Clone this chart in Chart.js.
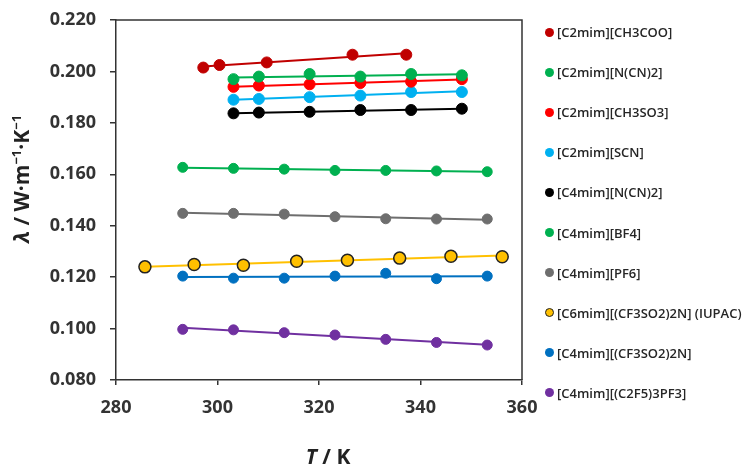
<!DOCTYPE html>
<html>
<head>
<meta charset="utf-8">
<script src="https://cdn.jsdelivr.net/npm/chart.js@4.4.1/dist/chart.umd.min.js"></script>
<style>
  body { margin: 0; background: #fff; }
  #wrap { position: relative; width: 748px; height: 466px; }
  #leyenda { position: absolute; left: 545px; top: 0; font: 600 13px "Open Sans", sans-serif; color: #262626; }
  .item { position: absolute; left: 0; height: 16px; line-height: 16px; white-space: nowrap; display: flex; align-items: center; }
  .punto { width: 9px; height: 9px; border-radius: 50%; margin-right: 3px; box-sizing: border-box; }
</style>
</head>
<body>
<div id="wrap">
  <canvas id="graficaConductividad" width="748" height="466"></canvas>
  <div id="leyenda"></div>
</div>
<script>
// temperaturas (K)
const T_ch3coo = [297.2, 300.4, 309.7, 326.6, 337.2];
const T_303 = [303.15, 308.15, 318.15, 328.15, 338.15, 348.15];
const T_293 = [293.15, 303.15, 313.15, 323.15, 333.15, 343.15, 353.15];
const T_iupac = [285.7, 295.4, 305.1, 315.6, 325.6, 335.9, 346.0, 356.1];

// conductividad térmica (W/m/K)
const k_c2_ch3coo = [0.2015, 0.2025, 0.2035, 0.2065, 0.2065];
const k_c2_dca = [0.197, 0.198, 0.199, 0.198, 0.199, 0.1985];
const k_c2_ch3so3 = [0.194, 0.1945, 0.195, 0.1955, 0.196, 0.197];
const k_c2_scn = [0.189, 0.1893, 0.190, 0.1906, 0.192, 0.192];
const k_c4_dca = [0.1837, 0.184, 0.1843, 0.185, 0.185, 0.1855];
const k_c4_bf4 = [0.1627, 0.1623, 0.162, 0.1615, 0.1615, 0.1613, 0.161];
const k_c4_pf6 = [0.1448, 0.1448, 0.1445, 0.1435, 0.1427, 0.1426, 0.1426];
const k_c6_ntf2 = [0.124, 0.1249, 0.1246, 0.1262, 0.1266, 0.1274, 0.1281, 0.1279];
const k_c4_ntf2 = [0.1204, 0.1196, 0.1196, 0.1204, 0.1215, 0.1194, 0.1204];
const k_c4_fap = [0.0997, 0.0995, 0.0984, 0.0975, 0.0958, 0.0946, 0.0936];

const nombres = [
  '[C2mim][CH3COO]', '[C2mim][N(CN)2]', '[C2mim][CH3SO3]', '[C2mim][SCN]',
  '[C4mim][N(CN)2]', '[C4mim][BF4]', '[C4mim][PF6]',
  '[C6mim][(CF3SO2)2N] (IUPAC)', '[C4mim][(CF3SO2)2N]', '[C4mim][(C2F5)3PF3]'
];
const colores = ['#C00000', '#00B050', '#FF0000', '#00B0F0', '#000000',
                 '#00B050', '#6E6E6E', '#FFC000', '#0070C0', '#7030A0'];
const temperaturas = [T_ch3coo, T_303, T_303, T_303, T_303, T_293, T_293, T_iupac, T_293, T_293];
const valores = [k_c2_ch3coo, k_c2_dca, k_c2_ch3so3, k_c2_scn, k_c4_dca,
                 k_c4_bf4, k_c4_pf6, k_c6_ntf2, k_c4_ntf2, k_c4_fap];
const ticksY = [0.080, 0.100, 0.120, 0.140, 0.160, 0.180, 0.200, 0.220];
const ticksX = [280, 300, 320, 340, 360];

const FUENTE = '"Open Sans", sans-serif';
const GRIS = '#333';

// recta de mínimos cuadrados entre el primer y el último punto
function tendencia(xs, ys) {
  const n = xs.length;
  const mx = xs.reduce((a, b) => a + b, 0) / n;
  const my = ys.reduce((a, b) => a + b, 0) / n;
  let sxy = 0, sxx = 0;
  for (let i = 0; i < n; i++) {
    sxy += (xs[i] - mx) * (ys[i] - my);
    sxx += (xs[i] - mx) * (xs[i] - mx);
  }
  const m = sxy / sxx;
  const b = my - m * mx;
  return [xs[0], xs[n - 1]].map(x => ({ x: x, y: m * x + b }));
}

const datasets = [];
nombres.forEach((nombre, i) => {
  const esIupac = i === 7;
  datasets.push({
    label: nombre,
    data: temperaturas[i].map((t, j) => ({ x: t, y: valores[i][j] })),
    showLine: false,
    order: 0,
    pointBackgroundColor: colores[i],
    pointBorderColor: esIupac ? '#222' : colores[i],
    pointBorderWidth: esIupac ? 1.5 : 1,
    pointRadius: esIupac ? 6 : (i < 5 ? 5.5 : 5)
  });
  datasets.push({
    label: nombre + ' (lineal)',
    data: tendencia(temperaturas[i], valores[i]),
    showLine: true,
    order: 1,
    borderColor: colores[i],
    borderWidth: 2,
    pointRadius: 0
  });
});

// marco, etiquetas del eje Y y títulos de los ejes
const marcoYTitulos = {
  id: 'marcoYTitulos',
  afterDraw(chart) {
    const { ctx, chartArea: a } = chart;
    ctx.save();
    ctx.strokeStyle = GRIS;
    ctx.lineWidth = 1.5;
    ctx.beginPath();
    ctx.moveTo(a.left, a.top);
    ctx.lineTo(a.right, a.top);
    ctx.lineTo(a.right, a.bottom);
    ctx.stroke();

    ctx.fillStyle = GRIS;
    ctx.font = 'bold 18px ' + FUENTE;
    ctx.textAlign = 'right';
    ctx.textBaseline = 'middle';
    const ey = chart.scales.y;
    ticksY.forEach(v => ctx.fillText(v.toFixed(3), 96, ey.getPixelForValue(v)));

    ctx.fillStyle = '#222';
    ctx.textAlign = 'left';
    ctx.textBaseline = 'alphabetic';

    // eje X: T / K
    const fx = 21;
    ctx.font = 'italic bold ' + fx + 'px ' + FUENTE;
    const wT = ctx.measureText('T').width;
    ctx.font = 'bold ' + fx + 'px ' + FUENTE;
    const wResto = ctx.measureText(' / K').width;
    let x0 = 328 - (wT + wResto) / 2;
    ctx.font = 'italic bold ' + fx + 'px ' + FUENTE;
    ctx.fillText('T', x0, 464);
    ctx.font = 'bold ' + fx + 'px ' + FUENTE;
    ctx.fillText(' / K', x0 + wT, 464);

    // eje Y: λ / W·m-1·K-1
    const fy = 21, fs = 13;
    const partes = [
      { t: 'λ', f: 'italic bold ' + fy + 'px ' + FUENTE, dy: 0 },
      { t: ' / W·m', f: 'bold ' + fy + 'px ' + FUENTE, dy: 0 },
      { t: '−1', f: 'bold ' + fs + 'px ' + FUENTE, dy: -8 },
      { t: '·K', f: 'bold ' + fy + 'px ' + FUENTE, dy: 0 },
      { t: '−1', f: 'bold ' + fs + 'px ' + FUENTE, dy: -8 }
    ];
    let total = 0;
    partes.forEach(p => { ctx.font = p.f; p.w = ctx.measureText(p.t).width; total += p.w; });
    ctx.translate(29, 179);
    ctx.rotate(-Math.PI / 2);
    let px = -total / 2;
    partes.forEach(p => {
      ctx.font = p.f;
      ctx.fillText(p.t, px, p.dy);
      px += p.w;
    });
    ctx.restore();
  }
};

const ctx = document.getElementById('graficaConductividad').getContext('2d');
new Chart(ctx, {
  type: 'scatter',
  data: { datasets: datasets },
  options: {
    responsive: false,
    animation: false,
    layout: { padding: { top: 20, right: 226, left: 0, bottom: 0 } },
    plugins: { legend: { display: false }, tooltip: { enabled: false } },
    scales: {
      x: {
        type: 'linear',
        min: 280,
        max: 360,
        afterFit: s => { s.height = 86; },
        afterBuildTicks: s => { s.ticks = ticksX.map(v => ({ value: v })); },
        ticks: { color: GRIS, font: { family: FUENTE, size: 18, weight: 'bold' }, padding: 12 },
        grid: { drawOnChartArea: false, tickLength: 5, color: GRIS, lineWidth: 1.5 },
        border: { color: GRIS, width: 1.5 }
      },
      y: {
        min: 0.08,
        max: 0.22,
        afterFit: s => { s.width = 116; },
        afterBuildTicks: s => { s.ticks = ticksY.map(v => ({ value: v })); },
        ticks: { display: false },
        grid: { drawOnChartArea: false, tickLength: 6, color: GRIS, lineWidth: 1.5 },
        border: { color: GRIS, width: 1.5 }
      }
    }
  },
  plugins: [marcoYTitulos]
});

// leyenda
const leyenda = document.getElementById('leyenda');
nombres.forEach((nombre, i) => {
  const item = document.createElement('div');
  item.className = 'item';
  item.style.top = (32 + i * 40.1 - 8) + 'px';
  const punto = document.createElement('span');
  punto.className = 'punto';
  punto.style.background = colores[i];
  if (i === 7) punto.style.border = '1.5px solid #222';
  item.appendChild(punto);
  item.appendChild(document.createTextNode(nombre));
  leyenda.appendChild(item);
});
</script>
</body>
</html>
